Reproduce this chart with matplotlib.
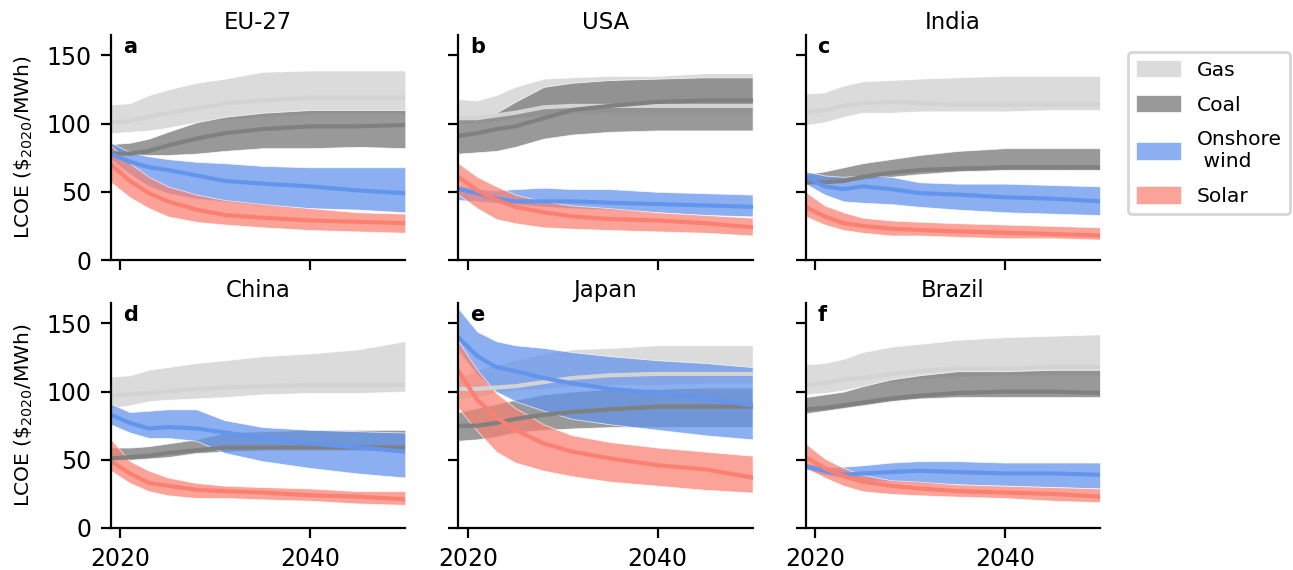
import matplotlib
matplotlib.use('Agg')
import matplotlib.pyplot as plt

years = [2019, 2021, 2023, 2025, 2028, 2031, 2035, 2040, 2045, 2050]

# EU-27
eu_gas_hi = [114, 115, 121, 125, 130, 133, 138, 139, 139, 139]
eu_gas_mid = [101, 102, 105, 108, 111, 115, 117, 119, 119, 119]
eu_gas_lo = [93, 94, 95, 97, 101, 103, 105, 107, 107, 107]
eu_coal_hi = [85, 86, 89, 94, 101, 105, 108, 110, 110, 110]
eu_coal_mid = [78, 78, 80, 84, 89, 93, 96, 98, 98, 99]
eu_coal_lo = [78, 77, 77, 77, 78, 80, 82, 82, 83, 82]
eu_wind_hi = [86, 79, 76, 74, 72, 71, 69, 68, 68, 68]
eu_wind_mid = [78, 72, 68, 66, 62, 58, 56, 54, 51, 49]
eu_wind_lo = [74, 63, 54, 49, 45, 43, 40, 38, 37, 35]
eu_solar_hi = [84, 71, 61, 54, 48, 44, 41, 38, 35, 34]
eu_solar_mid = [70, 58, 49, 43, 37, 33, 31, 29, 28, 27]
eu_solar_lo = [57, 46, 38, 32, 28, 26, 24, 22, 21, 20]

# USA
us_gas_hi = [118, 117, 121, 127, 133, 134, 135, 135, 137, 137]
us_gas_mid = [104, 104, 106, 108, 112, 113, 113, 113, 113, 113]
us_gas_lo = [100, 100, 102, 104, 106, 107, 108, 108, 108, 108]
us_coal_hi = [104, 104, 108, 116, 127, 130, 132, 133, 134, 134]
us_coal_mid = [91, 93, 96, 98, 104, 110, 113, 116, 117, 117]
us_coal_lo = [78, 79, 80, 83, 89, 92, 94, 95, 95, 95]
us_wind_hi = [55, 52, 51, 52, 53, 52, 52, 50, 49, 48]
us_wind_mid = [52, 49, 45, 43, 43, 43, 42, 41, 40, 39]
us_wind_lo = [44, 43, 42, 41, 39, 38, 37, 35, 33, 32]
us_solar_hi = [71, 61, 54, 48, 43, 40, 38, 35, 33, 31]
us_solar_mid = [61, 51, 44, 39, 35, 32, 30, 29, 27, 24]
us_solar_lo = [48, 38, 30, 27, 24, 23, 22, 21, 20, 18]

# India
in_gas_hi = [122, 123, 128, 131, 132, 133, 134, 135, 135, 135]
in_gas_mid = [108, 110, 113, 115, 116, 115, 114, 114, 114, 114]
in_gas_lo = [99, 101, 105, 108, 108, 109, 109, 109, 110, 110]
in_coal_hi = [63, 65, 68, 71, 74, 77, 80, 82, 82, 82]
in_coal_mid = [57, 57, 58, 61, 64, 66, 67, 68, 68, 68]
in_coal_lo = [56, 56, 57, 59, 61, 63, 65, 66, 66, 66]
in_wind_hi = [65, 62, 61, 62, 61, 57, 56, 56, 55, 54]
in_wind_mid = [61, 54, 52, 54, 52, 49, 48, 46, 45, 43]
in_wind_lo = [56, 48, 43, 42, 41, 39, 37, 35, 34, 33]
in_solar_hi = [50, 40, 35, 31, 29, 28, 27, 26, 25, 24]
in_solar_mid = [39, 32, 27, 25, 23, 22, 21, 20, 19, 18]
in_solar_lo = [32, 26, 22, 20, 18, 18, 17, 16, 16, 15]

# China
cn_gas_hi = [111, 112, 116, 118, 121, 123, 126, 128, 131, 137]
cn_gas_mid = [97, 98, 99, 100, 102, 103, 104, 105, 105, 105]
cn_gas_lo = [88, 90, 93, 94, 95, 96, 98, 99, 99, 100]
cn_coal_hi = [59, 59, 60, 62, 65, 70, 71, 72, 72, 72]
cn_coal_mid = [51, 52, 53, 55, 57, 59, 59, 59, 59, 59]
cn_coal_lo = [50, 50, 51, 52, 55, 56, 57, 57, 57, 57]
cn_wind_hi = [91, 85, 86, 87, 87, 79, 74, 72, 71, 70]
cn_wind_mid = [83, 77, 73, 74, 73, 70, 66, 62, 59, 56]
cn_wind_lo = [76, 70, 66, 66, 64, 55, 49, 44, 40, 37]
cn_solar_hi = [65, 49, 42, 37, 33, 31, 30, 29, 27, 27]
cn_solar_mid = [49, 40, 33, 31, 28, 27, 26, 24, 23, 21]
cn_solar_lo = [42, 33, 27, 24, 22, 22, 21, 20, 18, 17]

# Japan
jp_gas_hi = [109, 116, 120, 123, 128, 131, 132, 134, 134, 134]
jp_gas_mid = [102, 102, 103, 104, 107, 110, 112, 113, 113, 113]
jp_gas_lo = [95, 96, 99, 101, 102, 104, 105, 105, 106, 106]
jp_coal_hi = [85, 88, 91, 94, 98, 100, 102, 102, 103, 103]
jp_coal_mid = [75, 75, 77, 80, 83, 85, 87, 89, 89, 89]
jp_coal_lo = [64, 65, 67, 70, 72, 73, 74, 74, 74, 74]
jp_wind_hi = [161, 144, 137, 134, 132, 129, 126, 123, 121, 118]
jp_wind_mid = [140, 126, 118, 115, 110, 106, 102, 99, 95, 90]
jp_wind_lo = [130, 112, 100, 93, 86, 80, 76, 72, 68, 65]
jp_solar_hi = [137, 116, 99, 88, 76, 68, 63, 59, 56, 53]
jp_solar_mid = [115, 94, 81, 72, 62, 56, 51, 46, 43, 37]
jp_solar_lo = [88, 71, 56, 48, 42, 38, 34, 31, 28, 26]

# Brazil
br_gas_hi = [120, 121, 124, 129, 133, 135, 138, 140, 141, 142]
br_gas_mid = [105, 106, 109, 110, 113, 115, 117, 117, 118, 118]
br_gas_lo = [98, 99, 101, 104, 107, 109, 111, 112, 112, 112]
br_coal_hi = [96, 98, 100, 104, 109, 112, 115, 115, 116, 116]
br_coal_mid = [87, 88, 90, 92, 95, 97, 99, 100, 100, 99]
br_coal_lo = [84, 86, 88, 90, 93, 95, 96, 96, 96, 96]
br_wind_hi = [48, 45, 45, 46, 48, 49, 49, 48, 48, 48]
br_wind_mid = [45, 42, 39, 40, 41, 42, 41, 40, 40, 39]
br_wind_lo = [43, 39, 37, 35, 34, 33, 32, 31, 30, 29]
br_solar_hi = [62, 51, 44, 39, 35, 34, 32, 31, 30, 29]
br_solar_mid = [52, 44, 38, 34, 31, 29, 27, 26, 25, 23]
br_solar_lo = [44, 37, 31, 27, 25, 24, 23, 22, 20, 19]

titles = ['EU-27', 'USA', 'India', 'China', 'Japan', 'Brazil']
letters = ['a', 'b', 'c', 'd', 'e', 'f']
techs = ['Gas', 'Coal', 'Onshore\n wind', 'Solar']
colors = ['lightgrey', 'grey', 'cornflowerblue', 'salmon']
alphas = [0.8, 0.8, 0.75, 0.72]

regions = [
    [(eu_gas_lo, eu_gas_mid, eu_gas_hi), (eu_coal_lo, eu_coal_mid, eu_coal_hi),
     (eu_wind_lo, eu_wind_mid, eu_wind_hi), (eu_solar_lo, eu_solar_mid, eu_solar_hi)],
    [(us_gas_lo, us_gas_mid, us_gas_hi), (us_coal_lo, us_coal_mid, us_coal_hi),
     (us_wind_lo, us_wind_mid, us_wind_hi), (us_solar_lo, us_solar_mid, us_solar_hi)],
    [(in_gas_lo, in_gas_mid, in_gas_hi), (in_coal_lo, in_coal_mid, in_coal_hi),
     (in_wind_lo, in_wind_mid, in_wind_hi), (in_solar_lo, in_solar_mid, in_solar_hi)],
    [(cn_gas_lo, cn_gas_mid, cn_gas_hi), (cn_coal_lo, cn_coal_mid, cn_coal_hi),
     (cn_wind_lo, cn_wind_mid, cn_wind_hi), (cn_solar_lo, cn_solar_mid, cn_solar_hi)],
    [(jp_gas_lo, jp_gas_mid, jp_gas_hi), (jp_coal_lo, jp_coal_mid, jp_coal_hi),
     (jp_wind_lo, jp_wind_mid, jp_wind_hi), (jp_solar_lo, jp_solar_mid, jp_solar_hi)],
    [(br_gas_lo, br_gas_mid, br_gas_hi), (br_coal_lo, br_coal_mid, br_coal_hi),
     (br_wind_lo, br_wind_mid, br_wind_hi), (br_solar_lo, br_solar_mid, br_solar_hi)],
]

fig, axes = plt.subplots(2, 3, figsize=(6.465, 2.85), dpi=200, sharex=True, sharey=True)
fig.subplots_adjust(left=0.0858, right=0.8507, top=0.9386, bottom=0.0737,
                    wspace=0.18, hspace=0.191)

handles = []
for i, ax in enumerate(axes.flat):
    data = regions[i]
    # bands first, then median lines on top
    for j, (lo, mid, hi) in enumerate(data):
        h = ax.fill_between(years, lo, hi, color=colors[j], alpha=alphas[j],
                            edgecolor='white', linewidth=0.3)
        if i == 0:
            handles.append(h)
    for j, (lo, mid, hi) in enumerate(data):
        ax.plot(years, mid, color=colors[j], lw=1.5)

    ax.set_title(titles[i], fontsize=8.2, pad=2)
    ax.text(0.04, 0.99, letters[i], transform=ax.transAxes, fontsize=7.5,
            fontweight='bold', va='top', ha='left')
    ax.spines['top'].set_visible(False)
    ax.spines['right'].set_visible(False)
    ax.tick_params(labelsize=8.5, length=3.5, width=0.8)
    ax.set_xlim(2019, 2050)
    ax.set_ylim(0, 165)
    ax.set_xticks([2020, 2040])
    ax.set_yticks([0, 50, 100, 150])

for ax in axes[:, 0]:
    ax.set_ylabel(r'LCOE (\$$_{2020}$/MWh)', fontsize=7.3)

axes[0, 2].legend(handles, techs, loc='upper left', bbox_to_anchor=(1.095, 0.925),
                  borderaxespad=0, fontsize=7.3, handlelength=2.2, handleheight=0.95,
                  handletextpad=0.8, labelspacing=0.75)

plt.savefig('out.png', dpi=200)
